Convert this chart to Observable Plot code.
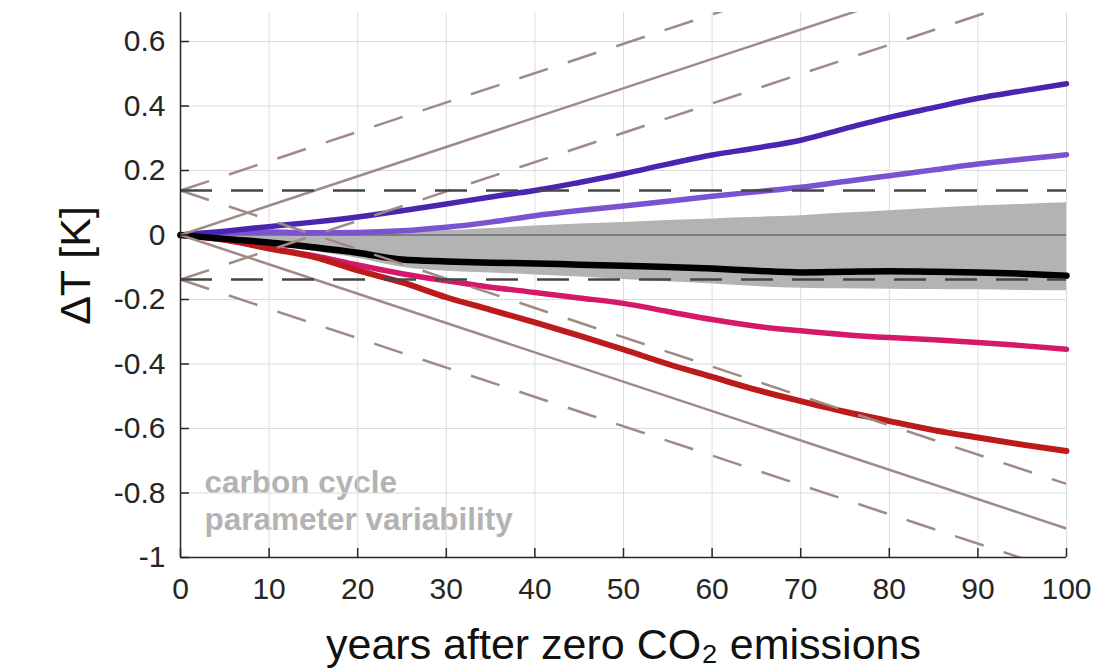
<!DOCTYPE html>
<html>
<head>
<meta charset="utf-8">
<script src="https://cdn.jsdelivr.net/npm/d3@7"></script>
<script src="https://cdn.jsdelivr.net/npm/@observablehq/plot@0.6"></script>
<style>
  html, body { margin: 0; padding: 0; background: #fff; }
  #chart svg { display: block; }
</style>
</head>
<body>
<div id="chart"></div>
<script>
// ---- data ----
const years = [0, 5, 10, 15, 20, 25, 30, 35, 40, 45, 50, 55, 60, 65, 70, 75, 80, 85, 90, 95, 100];

const darkPurple  = [0, 0.012, 0.026, 0.040, 0.056, 0.075, 0.096, 0.118, 0.138, 0.163, 0.190, 0.220, 0.248, 0.270, 0.294, 0.330, 0.365, 0.395, 0.424, 0.447, 0.469];
const lightPurple = [0, 0.008, 0.009, 0.007, 0.008, 0.013, 0.024, 0.040, 0.060, 0.076, 0.090, 0.105, 0.120, 0.134, 0.148, 0.166, 0.184, 0.202, 0.220, 0.235, 0.249];
const blackMean   = [0, -0.012, -0.023, -0.038, -0.055, -0.076, -0.082, -0.086, -0.088, -0.092, -0.095, -0.099, -0.104, -0.111, -0.116, -0.114, -0.112, -0.114, -0.116, -0.120, -0.126];
const pinkSeries  = [0, -0.015, -0.040, -0.064, -0.093, -0.120, -0.142, -0.162, -0.178, -0.195, -0.212, -0.237, -0.262, -0.283, -0.297, -0.309, -0.318, -0.325, -0.333, -0.343, -0.354];
const redSeries   = [0, -0.015, -0.042, -0.068, -0.110, -0.147, -0.193, -0.232, -0.271, -0.312, -0.355, -0.400, -0.440, -0.480, -0.515, -0.548, -0.577, -0.605, -0.628, -0.650, -0.670];

const bandLow  = [0, -0.008, -0.025, -0.050, -0.072, -0.100, -0.112, -0.118, -0.124, -0.130, -0.138, -0.145, -0.152, -0.160, -0.165, -0.167, -0.168, -0.169, -0.170, -0.172, -0.173];
const bandHigh = [0, 0, 0, 0.002, 0.005, 0.009, 0.013, 0.020, 0.028, 0.034, 0.039, 0.045, 0.050, 0.055, 0.060, 0.068, 0.075, 0.083, 0.090, 0.095, 0.100];

// straight guide lines: value at year 0 and value at year 100
const guideStart = [0, 0, 0.138, 0.138, -0.138, -0.138];
const guideEnd   = [0.91, -0.91, 1.048, -0.772, 0.772, -1.048];
const guideDashed = [false, false, true, true, true, true];

const hLevels = [0.138, -0.138];

const xTicks = [0, 10, 20, 30, 40, 50, 60, 70, 80, 90, 100];
const yTicks = [-1, -0.8, -0.6, -0.4, -0.2, 0, 0.2, 0.4, 0.6];
const yTickLabels = ["-1", "-0.8", "-0.6", "-0.4", "-0.2", "0", "0.2", "0.4", "0.6"];

const xLabel = "years after zero CO\u2082 emissions";
const yLabel = "\u0394T [K]";
const annotation = "carbon cycle\nparameter variability";

// ---- build tables ----
const toRows = (vals) => years.map((y, i) => ({year: y, value: vals[i]}));
const bandRows = years.map((y, i) => ({year: y, lo: bandLow[i], hi: bandHigh[i]}));
const y0 = years[0], yN = years[years.length - 1];
const guideRows = guideStart.map((s, i) => ({x1: y0, y1: s, x2: yN, y2: guideEnd[i], dashed: guideDashed[i]}));

const font = "'Liberation Sans', Arial, Helvetica, sans-serif";
const lineOpts = (color, w) => ({x: "year", y: "value", stroke: color, strokeWidth: w, curve: "monotone-x", strokeLinecap: "round", strokeLinejoin: "round"});

const chart = Plot.plot({
  width: 1119,
  height: 671,
  marginLeft: 180,
  marginRight: 53,
  marginTop: 12,
  marginBottom: 114,
  x: {domain: [0, 100]},
  y: {domain: [-1, 0.69]},
  style: {fontFamily: font, fontSize: "30px", color: "#262626", background: "#fff", overflow: "visible"},
  marks: [
    Plot.text([annotation], {text: d => d, frameAnchor: "bottom-left", textAnchor: "start", lineAnchor: "middle",
      dx: 24, dy: -58, fontSize: 31.5, fontWeight: "bold", fill: "#b3b3b3", lineHeight: 1.2}),
    Plot.gridX(xTicks, {stroke: "#dcdcdc", strokeOpacity: 1, strokeWidth: 1}),
    Plot.gridY(yTicks, {stroke: "#dcdcdc", strokeOpacity: 1, strokeWidth: 1}),
    Plot.areaY(bandRows, {x: "year", y1: "lo", y2: "hi", fill: "#b3b3b3", curve: "monotone-x"}),
    Plot.ruleY([0], {stroke: "#4d4d4d", strokeWidth: 1.2}),
    Plot.line(toRows(lightPurple), lineOpts("#7b52cf", 5.5)),
    Plot.line(toRows(darkPurple), lineOpts("#4a25b0", 5.5)),
    Plot.line(toRows(pinkSeries), lineOpts("#d6186a", 5.5)),
    Plot.line(toRows(redSeries), lineOpts("#bd1a1c", 6)),
    Plot.line(toRows(blackMean), lineOpts("#000000", 6.5)),
    Plot.link(guideRows.filter(d => !d.dashed), {x1: "x1", y1: "y1", x2: "x2", y2: "y2", stroke: "#a08a85", strokeWidth: 2.5, clip: true}),
    Plot.link(guideRows.filter(d => d.dashed), {x1: "x1", y1: "y1", x2: "x2", y2: "y2", stroke: "#a08a85", strokeWidth: 2.5, strokeDasharray: "30,21", clip: true}),
    Plot.ruleY(hLevels, {stroke: "#454545", strokeWidth: 2.5, strokeDasharray: "32,19"}),
    Plot.ruleX([0], {stroke: "#262626", strokeWidth: 1.5}),
    Plot.ruleY([-1], {stroke: "#262626", strokeWidth: 1.5}),
    Plot.axisX(xTicks, {tickSize: 9, dy: -9, fill: "none", stroke: "#262626", strokeWidth: 1.5, label: null}),
    Plot.axisX(xTicks, {tickSize: 0, tickPadding: 20, tickFormat: d => String(d), label: null, fontSize: 30, fill: "#262626"}),
    Plot.axisY(yTicks, {tickSize: 9, dx: 9, fill: "none", stroke: "#262626", strokeWidth: 1.5, label: null}),
    Plot.axisY(yTicks, {tickSize: 0, tickPadding: 15, tickFormat: d => yTickLabels[yTicks.indexOf(d)], label: null, fontSize: 30, fill: "#262626"}),
    Plot.text([yLabel], {text: d => d, frameAnchor: "left", rotate: -90, dx: -104, dy: -19.5, fontSize: 43, fill: "#111", lineAnchor: "middle", textAnchor: "middle"}),
    Plot.text([xLabel], {text: d => d, frameAnchor: "bottom", dy: 88, fontSize: 43, fill: "#111", lineAnchor: "middle", textAnchor: "middle"})
  ]
});
document.getElementById("chart").appendChild(chart);
</script>
</body>
</html>
